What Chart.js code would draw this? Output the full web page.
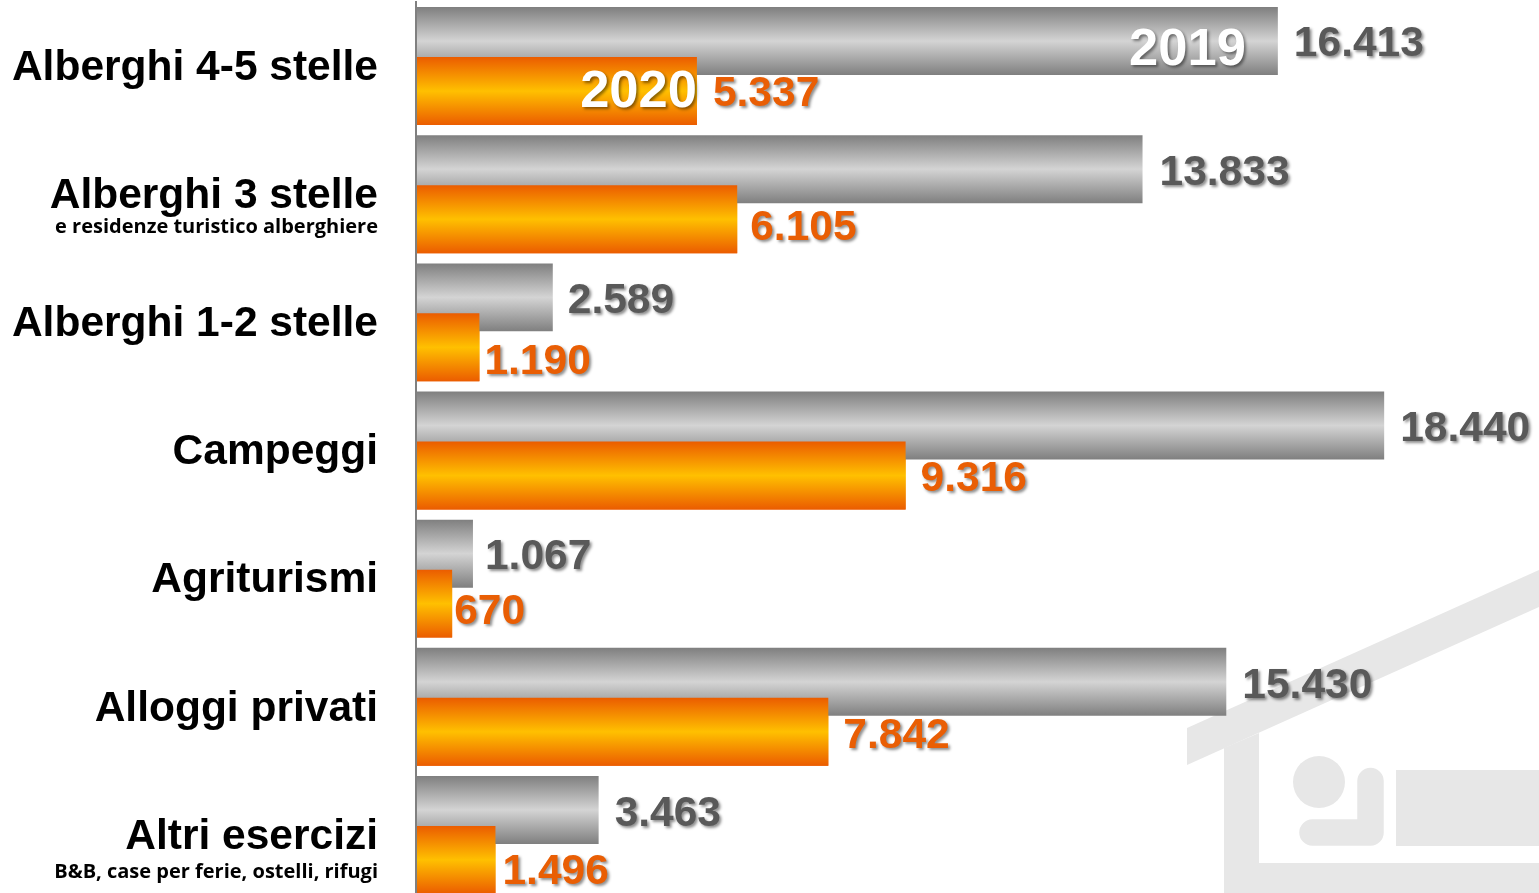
<!DOCTYPE html>
<html lang="it">
<head>
<meta charset="utf-8">
<title>Alberghi e altri esercizi 2019 - 2020</title>
<script src="https://cdn.jsdelivr.net/npm/chart.js@4"></script>
<style>
  html, body { margin: 0; padding: 0; background: #fff; overflow: hidden; }
  #wrap { width: 1539px; height: 893px; overflow: hidden; }
  canvas { display: block; }
</style>
</head>
<body>
<div id="wrap"><canvas id="grafico" width="1539" height="899"></canvas></div>
<script>
const categorie = ['Alberghi 4-5 stelle', 'Alberghi 3 stelle', 'Alberghi 1-2 stelle', 'Campeggi', 'Agriturismi', 'Alloggi privati', 'Altri esercizi']
const sottotitoli = ['', 'e residenze turistico alberghiere', '', '', '', '', 'B&B, case per ferie, ostelli, rifugi']
const anni = ['2019', '2020']
const valori2019 = [16413, 13833, 2589, 18440, 1067, 15430, 3463]
const valori2020 = [5337, 6105, 1190, 9316, 670, 7842, 1496]

// spostamenti a mano delle etichette rispetto alla fine della barra
const gapX2019 = [16, 17, 15, 16, 12, 16, 16]
const gapY2019 = [3, 4, 4, 4, 4, 4, 4]
const gapX2020 = [16, 13, 5, 15, 2, 15, 7]
const gapY2020 = [3, 9, 15, 4, 9, 5, 12]
const sottoY = [0, 33, 0, 0, 0, 0, 37]

const grigio = '#595959'
const arancio = '#E95E04'
const casa = '#E7E7E7'
const altezzaBarra = 68

function formatta(n) {
    return String(n).replace(/\B(?=(\d{3})+$)/g, '.')
}

function sfumatura(spostamento, bordo, centro) {
    return function (context) {
        if (context.type !== 'data') return bordo
        const c = context.chart.ctx
        const y = context.chart.scales.y.getPixelForValue(context.dataIndex) + spostamento
        // al primo giro la scala non ha ancora le misure
        if (!isFinite(y)) return bordo
        const g = c.createLinearGradient(0, y - altezzaBarra / 2, 0, y + altezzaBarra / 2)
        g.addColorStop(0, bordo)
        g.addColorStop(0.5, centro)
        g.addColorStop(1, bordo)
        return g
    }
}

function scrivi(c, testo, x, y, font, colore, align) {
    c.font = font
    c.fillStyle = colore
    c.textAlign = align
    c.textBaseline = 'middle'
    c.fillText(testo, x, y)
}

// disegno della casetta grigia sullo sfondo
const sfondoCasa = {
    id: 'sfondoCasa',
    beforeDatasetsDraw(chart) {
        const c = chart.ctx
        c.save()
        c.fillStyle = casa
        c.strokeStyle = casa
        c.beginPath()
        c.moveTo(1187, 728); c.lineTo(1539, 570); c.lineTo(1539, 607); c.lineTo(1187, 765)
        c.closePath()
        c.fill()
        c.beginPath()
        c.moveTo(1224, 748); c.lineTo(1259, 733); c.lineTo(1259, 863); c.lineTo(1539, 863)
        c.lineTo(1539, 899); c.lineTo(1224, 899)
        c.closePath()
        c.fill()
        c.beginPath()
        c.arc(1319, 782, 26, 0, Math.PI * 2)
        c.fill()
        c.fillRect(1396, 770, 143, 76)
        c.lineWidth = 26.5
        c.lineCap = 'round'
        c.lineJoin = 'round'
        c.beginPath()
        c.moveTo(1370.5, 781); c.lineTo(1370.5, 832.5); c.lineTo(1312.5, 832.5)
        c.stroke()
        c.restore()
    }
}

const etichette = {
    id: 'etichette',
    beforeDraw(chart) {
        // le etichette dell'asse stanno 2px sotto il centro della categoria
        const scala = chart.scales.y
        const originale = scala.drawLabels
        scala.drawLabels = function (area) {
            chart.ctx.save()
            chart.ctx.translate(0, 2)
            originale.call(scala, area)
            chart.ctx.restore()
        }
    },
    afterDatasetsDraw(chart) {
        const c = chart.ctx
        const meta2019 = chart.getDatasetMeta(0)
        const meta2020 = chart.getDatasetMeta(1)
        // le barre arancio devono stare sopra a quelle grigie
        meta2020.controller.draw()

        c.save()
        // sottotitoli senza ombra
        const scalaY = chart.scales.y
        sottotitoli.forEach((t, i) => {
            if (t) scrivi(c, t, 378, scalaY.getPixelForValue(i) + sottoY[i], 'bold 20px "Open Sans"', '#000', 'right')
        })

        c.shadowColor = 'rgba(0,0,0,0.45)'
        c.shadowBlur = 3
        c.shadowOffsetX = 2
        c.shadowOffsetY = 2
        const fontValori = 'bold 42.5px "Liberation Sans"'
        meta2019.data.forEach((bar, i) => {
            scrivi(c, formatta(valori2019[i]), bar.x + gapX2019[i], bar.y + gapY2019[i], fontValori, grigio, 'left')
        })
        meta2020.data.forEach((bar, i) => {
            scrivi(c, formatta(valori2020[i]), bar.x + gapX2020[i], bar.y + gapY2020[i], fontValori, arancio, 'left')
        })
        const fontAnni = 'bold 52.5px "Liberation Sans"'
        scrivi(c, anni[0], meta2019.data[0].x - 32, meta2019.data[0].y + 9, fontAnni, '#fff', 'right')
        scrivi(c, anni[1], meta2020.data[0].x, meta2020.data[0].y + 1, fontAnni, '#fff', 'right')
        c.restore()
    }
}

const grafico = new Chart(document.getElementById('grafico'), {
    type: 'bar',
    data: {
        labels: categorie,
        datasets: [{
            label: anni[0],
            data: valori2019,
            backgroundColor: sfumatura(-25, '#7F7F7F', '#D4D4D4'),
            categoryPercentage: 0.78,
            barPercentage: 1.36
        }, {
            label: anni[1],
            data: valori2020,
            backgroundColor: sfumatura(25, '#EB5C00', '#FFC000'),
            categoryPercentage: 0.78,
            barPercentage: 1.36
        }]
    },
    options: {
        indexAxis: 'y',
        responsive: false,
        animation: false,
        events: [],
        layout: { padding: { top: 2, right: 0, bottom: 0, left: 0 } },
        plugins: {
            legend: { display: false },
            tooltip: { enabled: false }
        },
        scales: {
            // min sotto zero: le barre partono subito a destra della linea dell'asse
            x: { display: false, min: -19, max: 21392 },
            y: {
                afterFit(scale) {
                    scale.width = 416
                    // niente margine extra sopra e sotto per le etichette
                    scale.paddingTop = 0
                    scale.paddingBottom = 0
                },
                grid: { display: false, drawTicks: false },
                border: { display: true, color: '#808080', width: 2 },
                ticks: {
                    autoSkip: false,
                    padding: 38,
                    color: '#000',
                    font: { family: '"Liberation Sans"', weight: 'bold', size: 42.5 }
                }
            }
        }
    },
    plugins: [sfondoCasa, etichette]
})
</script>
</body>
</html>
